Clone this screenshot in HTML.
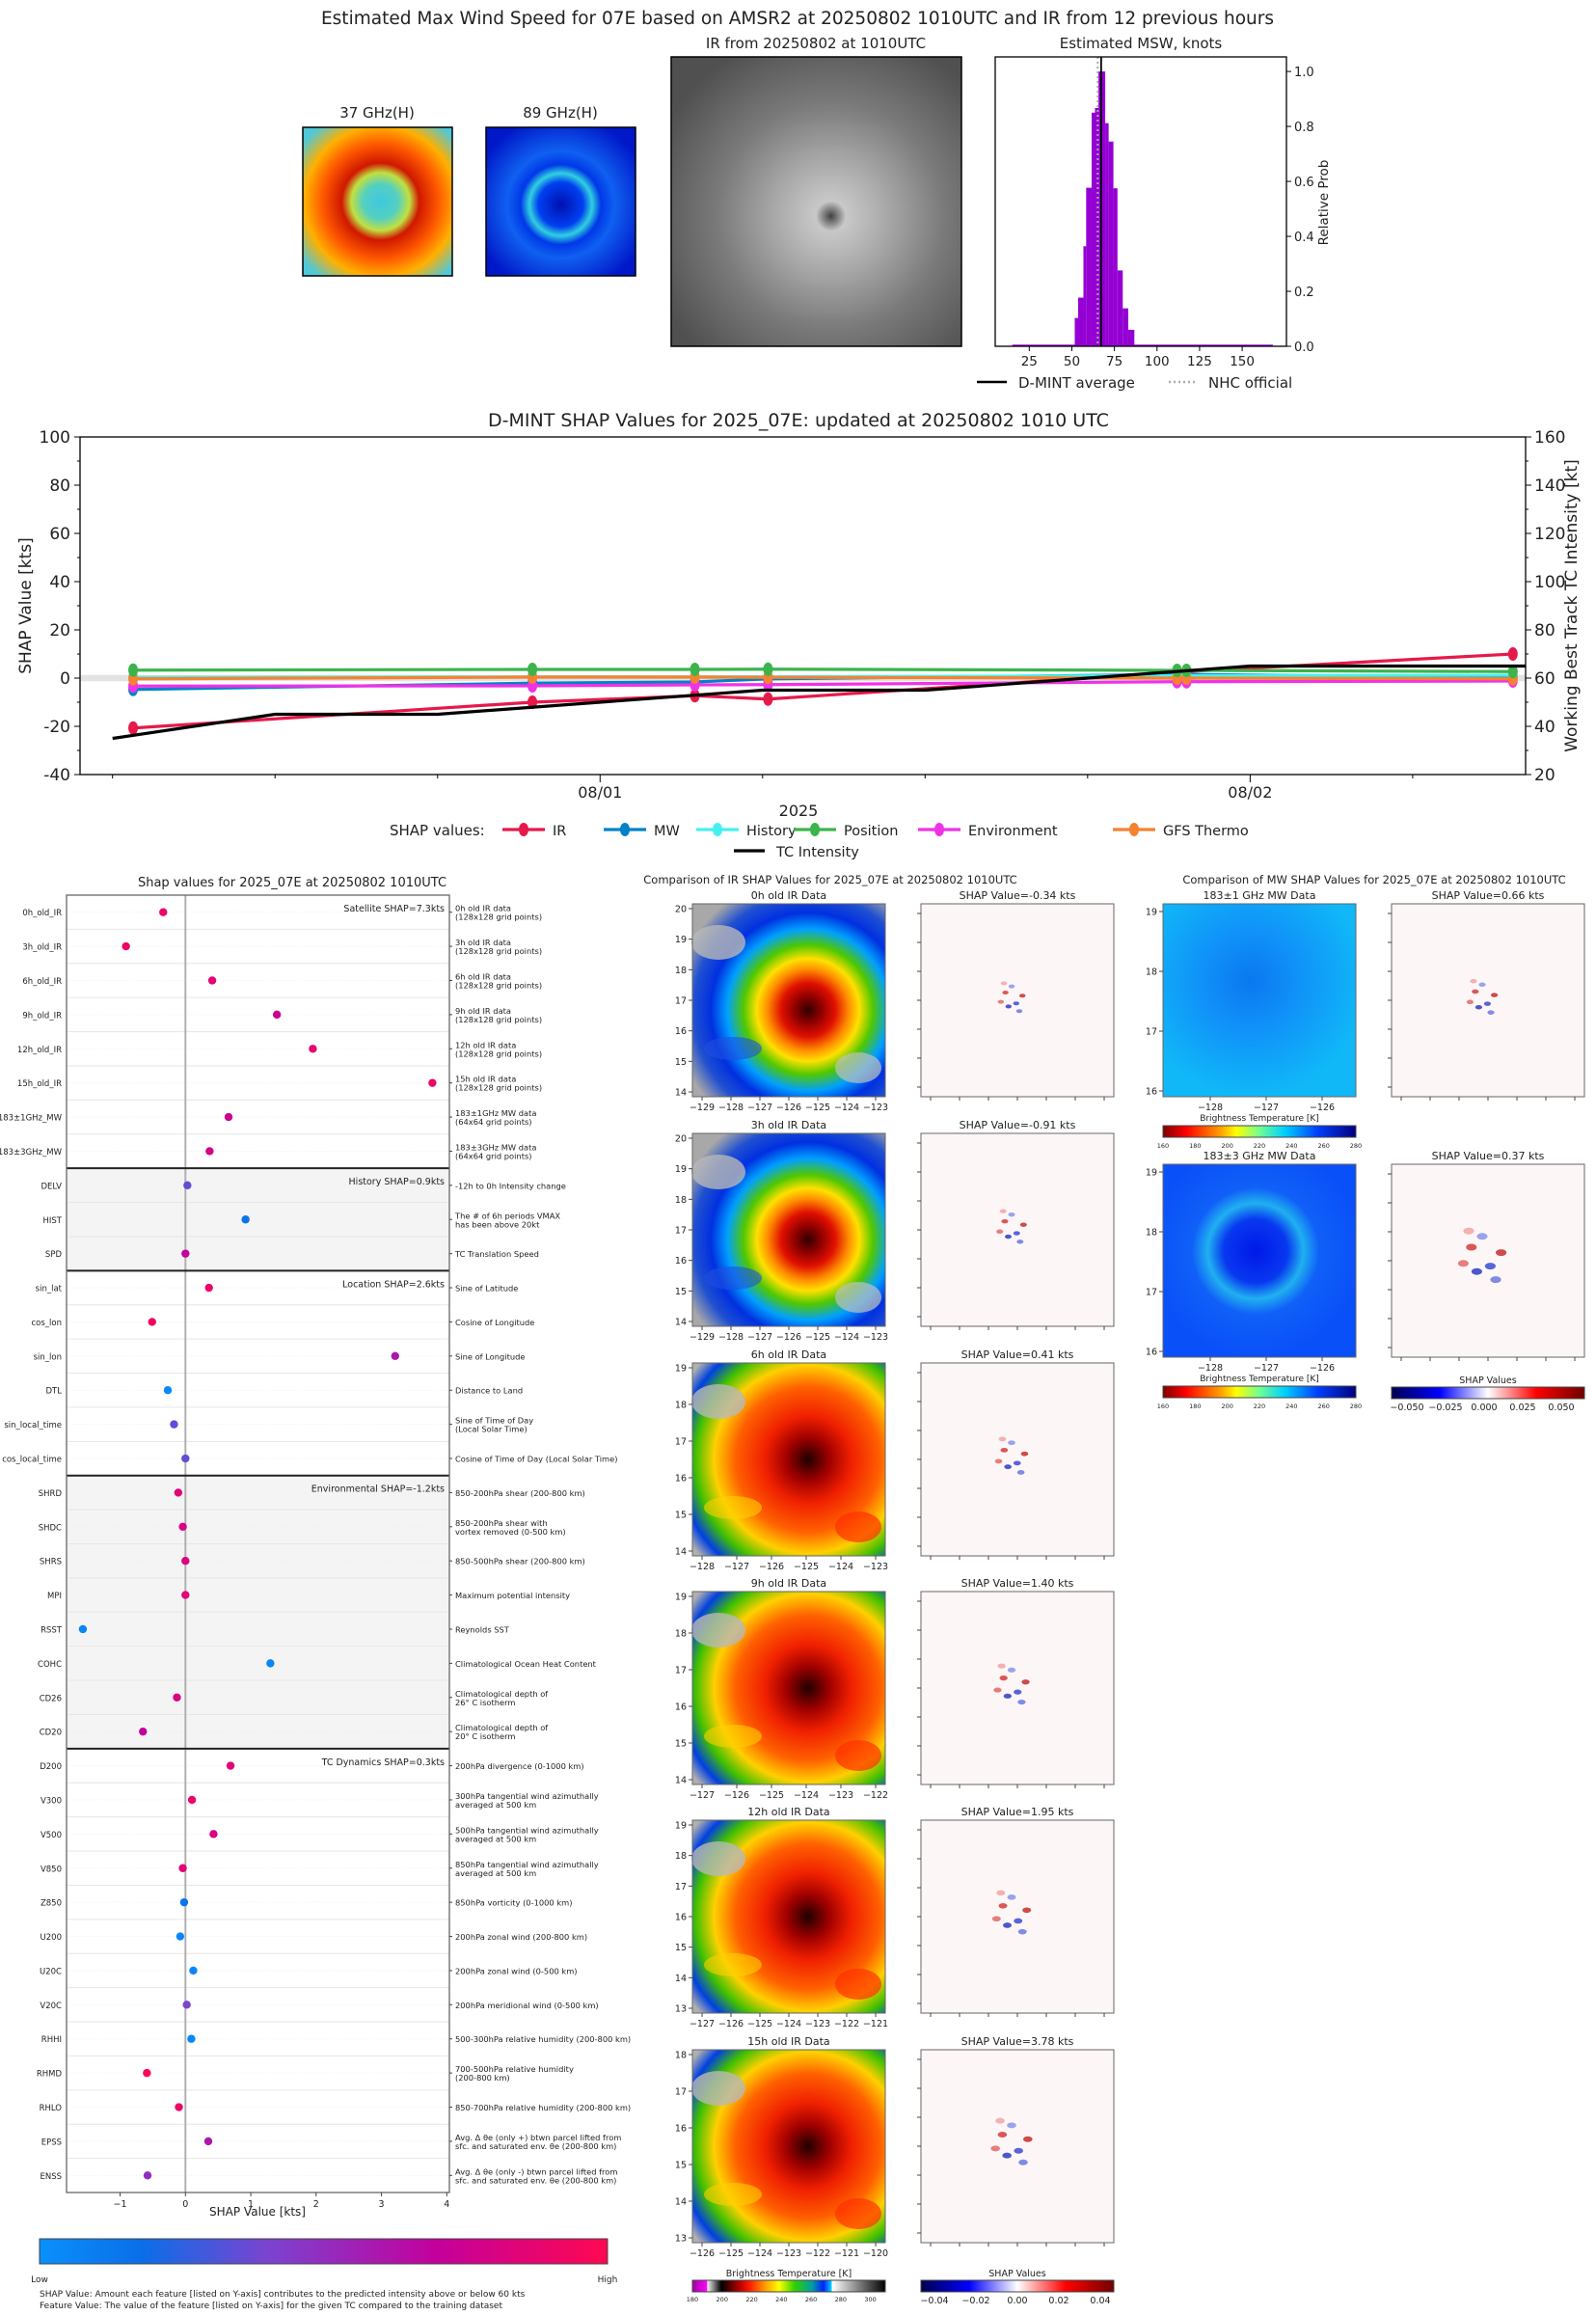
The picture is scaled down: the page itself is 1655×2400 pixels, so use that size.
<!DOCTYPE html>
<html><head><meta charset="utf-8">
<style>
html,body{margin:0;padding:0;background:#fff;}
body{width:1655px;height:2396px;position:relative;overflow:hidden;font-family:"DejaVu Sans","Liberation Sans",sans-serif;}
svg text{font-family:"DejaVu Sans","Liberation Sans",sans-serif;fill:#222;}
</style></head>
<body>
<svg id="root" width="1655" height="2396" viewBox="0 0 1655 2396" xmlns="http://www.w3.org/2000/svg">
<defs>
 <radialGradient id="g37" cx="52%" cy="50%" r="65%">
  <stop offset="0" stop-color="#3ec8e0"/><stop offset="0.18" stop-color="#55d0c0"/><stop offset="0.3" stop-color="#c0e040"/>
  <stop offset="0.4" stop-color="#d01800"/><stop offset="0.6" stop-color="#ff5a00"/><stop offset="0.78" stop-color="#ffb000"/><stop offset="1" stop-color="#50c8d8"/>
 </radialGradient>
 <radialGradient id="g89" cx="50%" cy="52%" r="60%">
  <stop offset="0" stop-color="#0010b0"/><stop offset="0.25" stop-color="#0040f0"/><stop offset="0.35" stop-color="#30d0e0"/>
  <stop offset="0.45" stop-color="#0038e8"/><stop offset="0.6" stop-color="#1060f0"/><stop offset="1" stop-color="#0018c8"/>
 </radialGradient>
 <radialGradient id="gir" cx="55%" cy="55%" r="65%">
  <stop offset="0" stop-color="#404040"/><stop offset="0.08" stop-color="#c8c8c8"/><stop offset="0.3" stop-color="#a8a8a8"/>
  <stop offset="0.6" stop-color="#7a7a7a"/><stop offset="1" stop-color="#505050"/>
 </radialGradient>
 <radialGradient id="girc" cx="60%" cy="55%" r="70%">
  <stop offset="0" stop-color="#300000"/><stop offset="0.1" stop-color="#900000"/><stop offset="0.2" stop-color="#e01000"/>
  <stop offset="0.3" stop-color="#ff8c00"/><stop offset="0.38" stop-color="#ffe000"/><stop offset="0.48" stop-color="#50c800"/>
  <stop offset="0.6" stop-color="#00a0ff"/><stop offset="0.72" stop-color="#0030e0"/><stop offset="0.85" stop-color="#2050d0"/><stop offset="1" stop-color="#a8a8a8"/>
 </radialGradient>
 <radialGradient id="girr" cx="60%" cy="50%" r="75%">
  <stop offset="0" stop-color="#200000"/><stop offset="0.15" stop-color="#a00000"/><stop offset="0.3" stop-color="#f02000"/>
  <stop offset="0.5" stop-color="#ff6000"/><stop offset="0.65" stop-color="#ffd000"/><stop offset="0.78" stop-color="#40c000"/>
  <stop offset="0.9" stop-color="#0040e0"/><stop offset="1" stop-color="#b0b0b0"/>
 </radialGradient>
 <radialGradient id="gmw1" cx="45%" cy="40%" r="60%">
  <stop offset="0" stop-color="#0a78f0"/><stop offset="0.4" stop-color="#1090f8"/><stop offset="1" stop-color="#10b8f8"/>
 </radialGradient>
 <radialGradient id="gmw3" cx="48%" cy="45%" r="55%">
  <stop offset="0" stop-color="#0018e8"/><stop offset="0.3" stop-color="#0838f0"/><stop offset="0.45" stop-color="#20b0f0"/><stop offset="0.6" stop-color="#1060f8"/><stop offset="1" stop-color="#0a50f8"/>
 </radialGradient>
 <linearGradient id="gcb" x1="0" x2="1"><stop offset="0" stop-color="#0a90fb"/><stop offset="0.18" stop-color="#0a6ee8"/><stop offset="0.4" stop-color="#7a44d0"/><stop offset="0.7" stop-color="#c4009c"/><stop offset="1" stop-color="#ff0850"/></linearGradient>
 <linearGradient id="gjet" x1="0" x2="1"><stop offset="0" stop-color="#800000"/><stop offset="0.12" stop-color="#ff0000"/><stop offset="0.3" stop-color="#ffa000"/><stop offset="0.38" stop-color="#ffff00"/><stop offset="0.5" stop-color="#70ff90"/><stop offset="0.63" stop-color="#00d0ff"/><stop offset="0.8" stop-color="#0040ff"/><stop offset="1" stop-color="#000080"/></linearGradient>
 <linearGradient id="gbwr" x1="0" x2="1"><stop offset="0" stop-color="#000050"/><stop offset="0.25" stop-color="#0000ff"/><stop offset="0.5" stop-color="#ffffff"/><stop offset="0.75" stop-color="#ff0000"/><stop offset="1" stop-color="#700000"/></linearGradient>
 <linearGradient id="gbt" x1="0" x2="1"><stop offset="0" stop-color="#a000a0"/><stop offset="0.075" stop-color="#ff00ff"/><stop offset="0.078" stop-color="#f0f0f0"/><stop offset="0.15" stop-color="#000"/><stop offset="0.25" stop-color="#c00000"/><stop offset="0.3" stop-color="#ff2000"/><stop offset="0.38" stop-color="#ffa000"/><stop offset="0.45" stop-color="#ffff00"/><stop offset="0.53" stop-color="#30d000"/><stop offset="0.62" stop-color="#00a0a0"/><stop offset="0.68" stop-color="#0020ff"/><stop offset="0.72" stop-color="#00d0ff"/><stop offset="0.725" stop-color="#ffffff"/><stop offset="1" stop-color="#000"/></linearGradient>
</defs>
</svg>
<script>
// ---------- data ----------
const histEdges = [51.7,53.7,56.8,58.4,61.6,63.6,65.6,69.6,71.6,74.4,76.8,79.9,83.1,86.7];
const histProb = [0.103,0.177,0.364,0.577,0.850,0.867,1.0,0.812,0.745,0.575,0.276,0.138,0.060];
const histXTicks = [25,50,75,100,125,150];
const histYTicks = [0.0,0.2,0.4,0.6,0.8,1.0];
const dmintAvg = 67.2;
const nhcOfficial = 65.2;

const shapHours = [6.76,21.5,27.5,30.2,45.3,45.65,57.7];
const irShap = [-20.7,-10,-7.3,-8.7,2.5,2.7,10];
const mwShap = [-4.7,-2.1,-1.6,-0.3,1.5,1.5,0.3];
const histShap = [0.3,0.5,0.5,0.5,1.0,1.0,1.2];
const posShap = [3.3,3.6,3.6,3.7,3.2,3.2,2.7];
const envShap = [-3.3,-3.2,-2.8,-2.7,-1.5,-1.5,-1.2];
const gfsShap = [-0.3,0.4,0.4,0.3,0.0,0.0,-0.3];
const tcHours = [6,12,18,24,30,36,42,48,54,58.17];
const tcIntensity = [35,45,45,50,55,55,60,65,65,65];
const leftTicks = [-40,-20,0,20,40,60,80,100];
const rightTicks = [20,40,60,80,100,120,140,160];
const dateLabels = ["08/01","08/02"];
const dateHours = [24,48];

const featNames = ["0h_old_IR","3h_old_IR","6h_old_IR","9h_old_IR","12h_old_IR","15h_old_IR","183±1GHz_MW","183±3GHz_MW","DELV","HIST","SPD","sin_lat","cos_lon","sin_lon","DTL","sin_local_time","cos_local_time","SHRD","SHDC","SHRS","MPI","RSST","COHC","CD26","CD20","D200","V300","V500","V850","Z850","U200","U20C","V20C","RHHI","RHMD","RHLO","EPSS","ENSS"];
const featShap = [-0.34,-0.91,0.41,1.40,1.95,3.78,0.66,0.37,0.03,0.92,0.0,0.36,-0.51,3.21,-0.27,-0.175,0.0,-0.11,-0.04,0.0,0.0,-1.57,1.30,-0.13,-0.65,0.69,0.10,0.43,-0.04,-0.02,-0.08,0.12,0.02,0.09,-0.59,-0.10,0.35,-0.58];
const featValue = [0.9,0.9,0.85,0.75,0.88,0.92,0.75,0.78,0.35,0.15,0.7,0.9,0.92,0.6,0.03,0.35,0.35,0.85,0.8,0.82,0.85,0.05,0.05,0.8,0.7,0.85,0.9,0.8,0.85,0.15,0.05,0.05,0.4,0.05,0.98,0.9,0.6,0.5];
const featDesc = ["0h old IR data|(128x128 grid points)","3h old IR data|(128x128 grid points)","6h old IR data|(128x128 grid points)","9h old IR data|(128x128 grid points)","12h old IR data|(128x128 grid points)","15h old IR data|(128x128 grid points)","183±1GHz MW data|(64x64 grid points)","183±3GHz MW data|(64x64 grid points)","-12h to 0h Intensity change","The # of 6h periods VMAX|has been above 20kt","TC Translation Speed","Sine of Latitude","Cosine of Longitude","Sine of Longitude","Distance to Land","Sine of Time of Day|(Local Solar Time)","Cosine of Time of Day (Local Solar Time)","850-200hPa shear (200-800 km)","850-200hPa shear with|vortex removed (0-500 km)","850-500hPa shear (200-800 km)","Maximum potential intensity","Reynolds SST","Climatological Ocean Heat Content","Climatological depth of|26° C isotherm","Climatological depth of|20° C isotherm","200hPa divergence (0-1000 km)","300hPa tangential wind azimuthally|averaged at 500 km","500hPa tangential wind azimuthally|averaged at 500 km","850hPa tangential wind azimuthally|averaged at 500 km","850hPa vorticity (0-1000 km)","200hPa zonal wind (200-800 km)","200hPa zonal wind (0-500 km)","200hPa meridional wind (0-500 km)","500-300hPa relative humidity (200-800 km)","700-500hPa relative humidity|(200-800 km)","850-700hPa relative humidity (200-800 km)","Avg. Δ θe (only +) btwn parcel lifted from|sfc. and saturated env. θe (200-800 km)","Avg. Δ θe (only -) btwn parcel lifted from|sfc. and saturated env. θe (200-800 km)"];
const groupStarts = [0,8,11,17,25];
const groupEnds = [8,11,17,25,38];
const groupLabels = ["Satellite SHAP=7.3kts","History SHAP=0.9kts","Location SHAP=2.6kts","Environmental SHAP=-1.2kts","TC Dynamics SHAP=0.3kts"];
const dotXTicks = [-1,0,1,2,3,4];

const irRowTitles = ["0h old IR Data","3h old IR Data","6h old IR Data","9h old IR Data","12h old IR Data","15h old IR Data"];
const irShapVals = ["-0.34","-0.91","0.41","1.40","1.95","3.78"];
const irYTicks = [[14,15,16,17,18,19,20],[14,15,16,17,18,19,20],[14,15,16,17,18,19],[14,15,16,17,18,19],[13,14,15,16,17,18,19],[13,14,15,16,17,18]];
const irXTicks = [[-129,-128,-127,-126,-125,-124,-123],[-129,-128,-127,-126,-125,-124,-123],[-128,-127,-126,-125,-124,-123],[-127,-126,-125,-124,-123,-122],[-127,-126,-125,-124,-123,-122,-121],[-126,-125,-124,-123,-122,-121,-120]];
const mwTitles = ["183±1 GHz MW Data","183±3 GHz MW Data"];
const mwShapVals = ["0.66","0.37"];

// ---------- helpers ----------
const NS="http://www.w3.org/2000/svg";
const root=document.getElementById('root');
function mk(tag,attrs,parent){const e=document.createElementNS(NS,tag);for(const k in attrs)e.setAttribute(k,attrs[k]);(parent||root).appendChild(e);return e;}
function txt(x,y,s,size,anchor,parent,extra){const t=mk('text',Object.assign({x:x,y:y,'font-size':size,'text-anchor':anchor||'start'},extra||{}),parent);t.textContent=s;return t;}

// ---------- top panel ----------
let t=txt(827,25,"Estimated Max Wind Speed for 07E based on AMSR2 at 20250802 1010UTC and IR from 12 previous hours",18.5,'middle');


t=txt(391,122,"37 GHz(H)",15,'middle');


let im=mk('rect',{x:314,y:132,width:155,height:154,fill:'url(#g37)',stroke:'#000','stroke-width':1.5});


t=txt(581,122,"89 GHz(H)",15,'middle');


im=mk('rect',{x:504,y:132,width:155,height:154,fill:'url(#g89)',stroke:'#000','stroke-width':1.5});


t=txt(846,50,"IR from 20250802 at 1010UTC",15,'middle');


im=mk('rect',{x:696,y:59,width:301,height:300,fill:'url(#gir)',stroke:'#000','stroke-width':1.5});



// histogram
const hx0=1032,hx1=1334,hy0=59,hy1=359,hxMin=5,hxMax=176,hyMax=1.053;
function hX(v){return hx0+(v-hxMin)/(hxMax-hxMin)*(hx1-hx0);}
function hY(v){return hy1-v/hyMax*(hy1-hy0);}
t=txt(1183,50,"Estimated MSW, knots",15,'middle');


const hg=mk('g',{});


let b=mk('rect',{x:hX(15),y:hY(0.006),width:hX(168)-hX(15),height:hY(0)-hY(0.006),fill:'#9400d3'},hg);


for(let i=0;i<histProb.length;i++){
  b=mk('rect',{x:hX(histEdges[i]),y:hY(histProb[i]),width:hX(histEdges[i+1])-hX(histEdges[i]),height:hY(0)-hY(histProb[i]),fill:'#9400d3'},hg);
  
  
}
let ln=mk('line',{x1:hX(nhcOfficial),x2:hX(nhcOfficial),y1:hy0,y2:hy1,stroke:'#aaa','stroke-width':2,'stroke-dasharray':'2,3'});


ln=mk('line',{x1:hX(dmintAvg),x2:hX(dmintAvg),y1:hy0,y2:hy1,stroke:'#000','stroke-width':1.8});


let fr=mk('rect',{x:hx0,y:hy0,width:hx1-hx0,height:hy1-hy0,fill:'none',stroke:'#000','stroke-width':1.3});


for(const v of histXTicks){mk('line',{x1:hX(v),x2:hX(v),y1:hy1,y2:hy1+5,stroke:'#000'});
  t=txt(hX(v),hy1+20,String(v),13.5,'middle');
  
  }
for(const v of histYTicks){mk('line',{x1:hx1,x2:hx1+5,y1:hY(v),y2:hY(v),stroke:'#000'});
  t=txt(hx1+8,hY(v)+5,v.toFixed(1),13,'start');
  
  }
t=txt(1377,210,"Relative Prob",13.5,'middle',null,{transform:'rotate(-90 1377 210)'});


mk('line',{x1:1013,x2:1044,y1:396,y2:396,stroke:'#000','stroke-width':2.5});
t=txt(1056,402,"D-MINT average",15);


mk('line',{x1:1212,x2:1242,y1:396,y2:396,stroke:'#aaa','stroke-width':2.5,'stroke-dasharray':'2,3'});
t=txt(1253,402,"NHC official",15);



// ---------- timeline ----------
const tx0=83,tx1=1582,ty0=453,ty1=803,tHmin=4.8,tHmax=58.17;
function tX(h){return tx0+(h-tHmin)/(tHmax-tHmin)*(tx1-tx0);}
function tY(v){return ty0+(100-v)/140*(ty1-ty0);}
function tYr(v){return tY(v-60);}
t=txt(828,442,"D-MINT SHAP Values for 2025_07E: updated at 20250802 1010 UTC",19,'middle');


let band=mk('rect',{x:tx0,y:tY(1.3),width:tx1-tx0,height:tY(-1.3)-tY(1.3),fill:'#e3e3e3'});


fr=mk('rect',{x:tx0,y:ty0,width:tx1-tx0,height:ty1-ty0,fill:'none',stroke:'#000','stroke-width':1.3});


for(let v=-40;v<=100;v+=10){mk('line',{x1:tx0-(v%20===0?6:3),x2:tx0,y1:tY(v),y2:tY(v),stroke:'#000'});}
for(const v of leftTicks){t=txt(tx0-10,tY(v)+6,String(v),17,'end');
  
  }
for(let v=20;v<=160;v+=10){mk('line',{x1:tx1,x2:tx1+(v%20===0?6:3),y1:tYr(v),y2:tYr(v),stroke:'#000'});}
for(const v of rightTicks){t=txt(tx1+9,tYr(v)+6,String(v),17,'start');
  
  }
for(let h=6;h<=58;h+=6){const big=(h%24===0);mk('line',{x1:tX(h),x2:tX(h),y1:ty1,y2:ty1+(big?8:4),stroke:'#000'});}
for(let i=0;i<dateLabels.length;i++){t=txt(tX(dateHours[i]),ty1+24,dateLabels[i],16,'middle');
  
  }
t=txt(828,846,"2025",16,'middle');


t=txt(32,628,"SHAP Value [kts]",17,'middle',null,{transform:'rotate(-90 32 628)'});


t=txt(1635,628,"Working Best Track TC Intensity [kt]",17,'middle',null,{transform:'rotate(-90 1635 628)'});


const seriesList=[[irShap,'#e6194b','ir'],[mwShap,'#0082c8','mw'],[histShap,'#46f0f0','history'],[envShap,'#f032e6','environment'],[gfsShap,'#f58231','gfs-thermo'],[posShap,'#3cb44b','position']];
for(const s of seriesList){
  const g=mk('g',{});
  
  
  const pts=s[0].map((v,i)=>tX(shapHours[i])+','+tY(v)).join(' ');
  mk('polyline',{points:pts,fill:'none',stroke:s[1],'stroke-width':3.2},g);
  for(let i=0;i<s[0].length;i++){const c=mk('ellipse',{cx:tX(shapHours[i]),cy:tY(s[0][i]),rx:5,ry:7,fill:s[1]},g);
    
    }
}
const tcl=mk('polyline',{points:tcIntensity.map((v,i)=>tX(tcHours[i])+','+tYr(v)).join(' '),fill:'none',stroke:'#000','stroke-width':3.2});


// legend
t=txt(404,866,"SHAP values:",15);


const legItems=[[521,'#e6194b','IR'],[626,'#0082c8','MW'],[722,'#46f0f0','History'],[823,'#3cb44b','Position'],[952,'#f032e6','Environment'],[1154,'#f58231','GFS Thermo']];
for(const L of legItems){
  const g=mk('g',{});
  
  
  mk('line',{x1:L[0],x2:L[0]+44,y1:860,y2:860,stroke:L[1],'stroke-width':3.2},g);
  mk('ellipse',{cx:L[0]+22,cy:860,rx:5,ry:7,fill:L[1]},g);
  txt(L[0]+52,866,L[2],14.5,'start',g);
}
mk('line',{x1:761,x2:793,y1:882,y2:882,stroke:'#000','stroke-width':3.2});
t=txt(805,888,"TC Intensity",14.5);



// ---------- dot plot ----------
const dx0=69,dx1=466,dy0=928,dy1=2273,dXmin=-1.82,dXmax=4.04,rowH=(dy1-dy0)/38;
function dX(v){return dx0+(v-dXmin)/(dXmax-dXmin)*(dx1-dx0);}
function dY(i){return dy0+(i+0.5)*rowH;}
function lerpC(a,b,f){return a.map((x,i)=>Math.round(x+(b[i]-x)*f));}
const cStops=[[0,[10,144,251]],[0.18,[10,110,232]],[0.4,[122,68,208]],[0.7,[196,0,156]],[1,[255,8,80]]];
function cmap(f){for(let i=1;i<cStops.length;i++){if(f<=cStops[i][0]){const a=cStops[i-1],b=cStops[i];const c=lerpC(a[1],b[1],(f-a[0])/(b[0]-a[0]));return 'rgb('+c.join(',')+')';}}return 'rgb(255,8,80)';}
t=txt(303,919,"Shap values for 2025_07E at 20250802 1010UTC",13,'middle');


for(let gi=0;gi<groupStarts.length;gi++){
  const y0=dy0+groupStarts[gi]*rowH,y1=dy0+groupEnds[gi]*rowH;
  const r=mk('rect',{x:dx0,y:y0,width:dx1-dx0,height:y1-y0,fill:(gi===1||gi===3)?'#f4f4f4':'#fff'});
  
  
  t=txt(dx1-5,y0+17,groupLabels[gi],9.5,'end');
  
  
}
for(let i=1;i<38;i++){mk('line',{x1:dx0,x2:dx1,y1:dy0+i*rowH,y2:dy0+i*rowH,stroke:'#e6e6e6','stroke-width':1});}
for(let i=0;i<38;i++){mk('line',{x1:dx0,x2:dx1,y1:dY(i),y2:dY(i),stroke:'#eee','stroke-width':0.8,'stroke-dasharray':'1,2'});}
mk('line',{x1:dX(0),x2:dX(0),y1:dy0,y2:dy1,stroke:'#b0b0b0','stroke-width':2});
for(let gi=1;gi<groupStarts.length;gi++){const y=dy0+groupStarts[gi]*rowH;mk('line',{x1:dx0,x2:dx1,y1:y,y2:y,stroke:'#222','stroke-width':2});}
fr=mk('rect',{x:dx0,y:dy0,width:dx1-dx0,height:dy1-dy0,fill:'none',stroke:'#666','stroke-width':1.3});


for(let i=0;i<38;i++){
  t=txt(dx0-5,dY(i)+3.5,featNames[i],8.5,'end');
  
  
  mk('line',{x1:dx1,x2:dx1+3,y1:dY(i),y2:dY(i),stroke:'#444'});
  const parts=featDesc[i].split('|');
  const tt=txt(dx1+6,dY(i)+(parts.length>1?-1:3.5),'',8.3,'start');
  
  
  parts.forEach((p,k)=>{const ts=mk('tspan',{x:dx1+6,dy:k?9:0},tt);ts.textContent=p;});
  const c=mk('circle',{cx:dX(featShap[i]),cy:dY(i),r:4.2,fill:cmap(featValue[i])});
  
  
}
for(const v of dotXTicks){mk('line',{x1:dX(v),x2:dX(v),y1:dy1,y2:dy1+4,stroke:'#444'});
  t=txt(dX(v),dy1+15,v<0?'\u2212'+Math.abs(v):String(v),9.5,'middle');
  
  }
t=txt(267,2297,"SHAP Value [kts]",12,'middle');


let cb=mk('rect',{x:41,y:2321,width:589,height:26,fill:'url(#gcb)',stroke:'#444','stroke-width':1});


t=txt(41,2366,"Low",9,'middle');


t=txt(630,2366,"High",9,'middle');


t=txt(41,2381,"SHAP Value: Amount each feature [listed on Y-axis] contributes to the predicted intensity above or below 60 kts",9);


t=txt(41,2396-3,"Feature Value: The value of the feature [listed on Y-axis] for the given TC compared to the training dataset",9);



// ---------- IR SHAP comparison ----------
t=txt(861,916,"Comparison of IR SHAP Values for 2025_07E at 20250802 1010UTC",11.5,'middle');


function shapMap(x,y,w,h,strength,name){
  const g=mk('g',{});
  
  
  mk('rect',{x:x,y:y,width:w,height:h,fill:'#fdf6f6'},g);
  const cx=x+w*0.47,cy=y+h*0.5;
  const blobs=[[-8,-10,'#d03030'],[6,4,'#3040d0'],[14,-6,'#c02020'],[-4,8,'#2030c0'],[-14,2,'#e06060'],[10,14,'#6070e0'],[0,-18,'#8090e8'],[-10,-22,'#f0a0a0']];
  blobs.forEach(bb=>{mk('ellipse',{cx:cx+bb[0]*strength,cy:cy+bb[1]*strength,rx:4*strength,ry:2.5*strength,fill:bb[2],opacity:0.8},g);});
  mk('rect',{x:x,y:y,width:w,height:h,fill:'none',stroke:'#666','stroke-width':1},g);
  for(let k=0;k<7;k++){mk('line',{x1:x+10+k*30,x2:x+10+k*30,y1:y+h,y2:y+h+4,stroke:'#444'},g);mk('line',{x1:x-4,x2:x,y1:y+10+k*30,y2:y+10+k*30,stroke:'#444'},g);}
  return g;
}
const irTops=[937,1175,1413,1650,1887,2125];
for(let r=0;r<6;r++){
  const y=irTops[r];
  t=txt(818,y-5,irRowTitles[r],11,'middle');
  
  
  const g=mk('g',{});
  
  
  mk('rect',{x:718,y:y,width:200,height:200,fill:(r<2?'url(#girc)':'url(#girr)')},g);
  // irregular patches
  mk('ellipse',{cx:745,cy:y+40,rx:28,ry:18,fill:'#b8b8b8',opacity:0.8},g);
  mk('ellipse',{cx:890,cy:y+170,rx:24,ry:16,fill:r<2?'#c0c0c0':'#ff3000',opacity:0.7},g);
  mk('ellipse',{cx:760,cy:y+150,rx:30,ry:12,fill:r<2?'#2050e0':'#ffd000',opacity:0.6},g);
  mk('rect',{x:718,y:y,width:200,height:200,fill:'none',stroke:'#666'},g);
  const yt=irYTicks[r];
  yt.forEach((v,k)=>{const yy=y+195-k*(190/(yt.length-1));mk('line',{x1:714,x2:718,y1:yy,y2:yy,stroke:'#444'},g);txt(712,yy+3.5,String(v),9.5,'end',g);});
  const xt=irXTicks[r];
  xt.forEach((v,k)=>{const xx=728+k*(180/(xt.length-1));mk('line',{x1:xx,x2:xx,y1:y+200,y2:y+204,stroke:'#444'},g);txt(xx,y+214,'\u2212'+Math.abs(v),9.5,'middle',g);});
  t=txt(1055,y-5,"SHAP Value="+irShapVals[r]+" kts",11,'middle');
  
  
  shapMap(955,y,200,200,0.8+r*0.08,'ir-shap-map-'+r);
}
t=txt(818,2360,"Brightness Temperature [K]",9.5,'middle');


cb=mk('rect',{x:718,y:2364,width:200,height:12,fill:'url(#gbt)',stroke:'#444'});


[180,200,220,240,260,280,300].forEach((v,k)=>{txt(718+k*200/130*20,2386,String(v),6.5,'middle');});
t=txt(1055,2360,"SHAP Values",9.5,'middle');


cb=mk('rect',{x:955,y:2364,width:200,height:12,fill:'url(#gbwr)',stroke:'#444'});


['\u22120.04','\u22120.02','0.00','0.02','0.04'].forEach((s,k)=>{txt(969+k*43,2388,s,9.5,'middle');});

// ---------- MW SHAP comparison ----------
t=txt(1425,916,"Comparison of MW SHAP Values for 2025_07E at 20250802 1010UTC",11.5,'middle');


const mwTops=[937,1207];
for(let r=0;r<2;r++){
  const y=mwTops[r];
  t=txt(1306,y-5,mwTitles[r],11,'middle');
  
  
  const g=mk('g',{});
  
  
  mk('rect',{x:1206,y:y,width:200,height:200,fill:r?'url(#gmw3)':'url(#gmw1)',stroke:'#666'},g);
  [19,18,17,16].forEach((v,k)=>{const yy=y+8+k*62;mk('line',{x1:1202,x2:1206,y1:yy,y2:yy,stroke:'#444'},g);txt(1200,yy+3.5,String(v),9.5,'end',g);});
  [-128,-127,-126].forEach((v,k)=>{const xx=1255+k*58;mk('line',{x1:xx,x2:xx,y1:y+200,y2:y+204,stroke:'#444'},g);txt(xx,y+214,'\u2212'+Math.abs(v),9.5,'middle',g);});
  t=txt(1306,y+225,"Brightness Temperature [K]",9,'middle');
  
  
  cb=mk('rect',{x:1206,y:y+230,width:200,height:12,fill:'url(#gjet)',stroke:'#444'});
  
  
  [160,180,200,220,240,260,280].forEach((v,k)=>{txt(1206+k*200/6,y+253,String(v),6.5,'middle');});
  t=txt(1543,y-5,"SHAP Value="+mwShapVals[r]+" kts",11,'middle');
  
  
  shapMap(1443,y,200,200,r?1.4:0.9,'mw-shap-map-'+r);
}
t=txt(1543,1434,"SHAP Values",9.5,'middle');


cb=mk('rect',{x:1443,y:1438,width:200,height:12,fill:'url(#gbwr)',stroke:'#444'});


['\u22120.050','\u22120.025','0.000','0.025','0.050'].forEach((s,k)=>{txt(1459+k*40,1462,s,9.5,'middle');});
</script>
</body></html>
